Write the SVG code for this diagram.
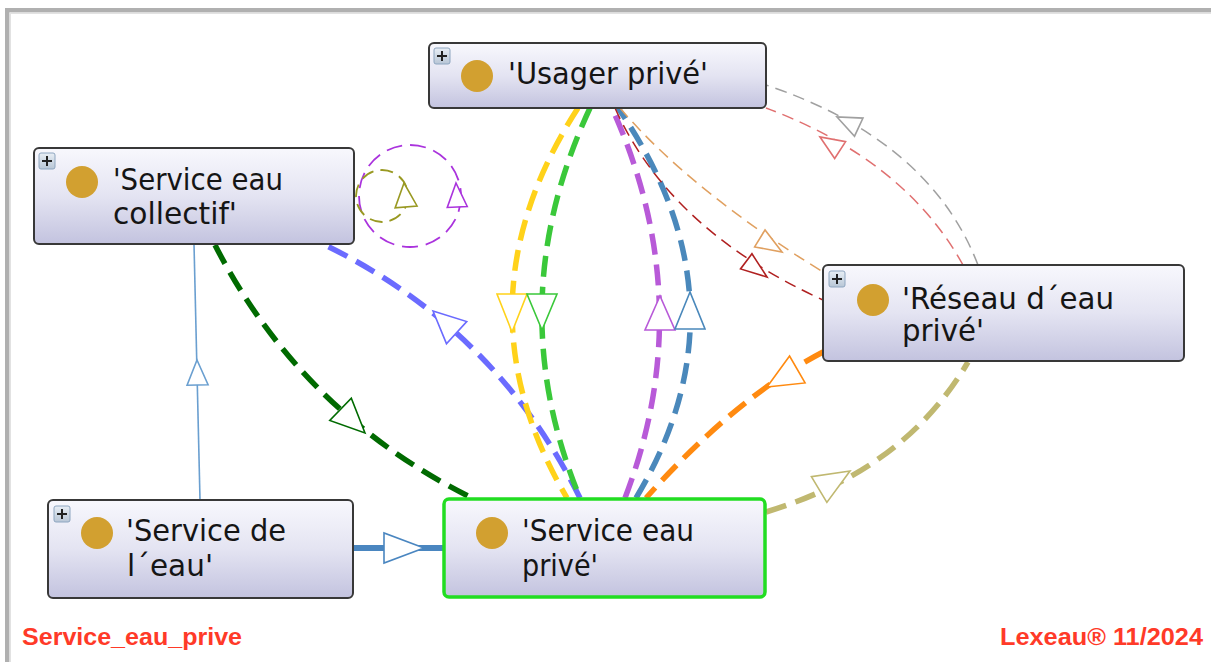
<svg xmlns="http://www.w3.org/2000/svg" width="1211" height="662" viewBox="0 0 1211 662">
<defs>
<linearGradient id="ng" x1="0" y1="0" x2="0" y2="1">
<stop offset="0" stop-color="#f8f8fd"/>
<stop offset="0.5" stop-color="#e4e4f2"/>
<stop offset="1" stop-color="#c3c3df"/>
</linearGradient>
<linearGradient id="ig" x1="0" y1="0" x2="0" y2="1">
<stop offset="0" stop-color="#e8eef5"/>
<stop offset="1" stop-color="#b8c6d6"/>
</linearGradient>
</defs>
<style>
.box{fill:url(#ng);stroke:#383838;stroke-width:2}
.sel{fill:url(#ng);stroke:#22dd22;stroke-width:3.5}
.dot{fill:#d2a030}
.ico{fill:url(#ig);stroke:#8ea6c0;stroke-width:1}
.plus{stroke:#222;stroke-width:2}
.lbl{font-family:"DejaVu Sans","Liberation Sans",sans-serif;font-size:30px;fill:#151515}
.foot{font-family:"Liberation Sans",Arial,sans-serif;font-weight:bold;font-size:24px;fill:#ff3a28}
.e{fill:none}
.thick{stroke-width:5.5;stroke-dasharray:21 10}
.thin{stroke-width:1.5;stroke-dasharray:12 7}
.ah{fill:#fff;stroke-width:1.6;stroke-linejoin:miter}
</style>
<rect x="0" y="0" width="1211" height="662" fill="#fff"/>
<rect x="5" y="8" width="1206" height="4.5" fill="#b0b0b0"/>
<rect x="5" y="8" width="4.5" height="654" fill="#b0b0b0"/>
<rect x="9.5" y="12.5" width="1201.5" height="1.5" fill="#e2e2e2"/>
<rect x="9.5" y="12.5" width="1.5" height="649.5" fill="#e2e2e2"/>

<g id="connectors">
<circle class="e" cx="410" cy="196" r="51" stroke="#aa33dd" stroke-width="1.8" stroke-dasharray="16 8"/>
<circle class="e" cx="382" cy="196" r="26" stroke="#999922" stroke-width="1.8" stroke-dasharray="13 7"/>
<path class="e" d="M200,500 L194,244" stroke="#6a9fd0" stroke-width="1.6"/>
<path class="e" d="M353,548 L443,548" stroke="#4a86c0" stroke-width="6"/>
<path class="e thick" d="M215,245 Q301,413 472,498" stroke="#006a00"/>
<path class="e thick" d="M580,498 Q496,329 327,246" stroke="#6b6bff"/>
<path class="e thick" d="M578,108 Q452,303 567,498" stroke="#ffd21a"/>
<path class="e thick" d="M590,108 Q499,303 580,498" stroke="#3ac83a"/>
<path class="e thick" d="M625,498 Q700,303 612,108" stroke="#b85ad8"/>
<path class="e thick" d="M636,498 Q753,303 618,108" stroke="#4a88bb"/>
<path class="e thick" d="M823,352 Q735,398 646,498" stroke="#ff8a10"/>
<path class="e thick" d="M766,512 Q905,470 968,362" stroke="#c0b870"/>
<path class="e thin" d="M620,108 Q690,190 823,272" stroke="#e0a060"/>
<path class="e thin" d="M615,108 Q670,230 823,300" stroke="#b02020"/>
<path class="e thin" d="M978,265 Q930,140 766,85" stroke="#a0a0a0"/>
<path class="e thin" d="M963,265 Q905,160 766,108" stroke="#e07070"/>

<polygon class="ah" stroke="#4a86c0" points="0,0 -40,-15 -40,15" transform="translate(424,548)"/>
<polygon class="ah" stroke="#6a9fd0" points="0,0 -25,-10.5 -25,10.5" transform="translate(197,360) rotate(-91.3)"/>
<polygon class="ah" stroke="#006a00" points="0,0 -34,-15.5 -34,15.5" transform="translate(365,433) rotate(44)"/>
<polygon class="ah" stroke="#6b6bff" points="0,0 -32,-15 -32,15" transform="translate(433,311) rotate(222.5)"/>
<polygon class="ah" stroke="#ffd21a" points="0,0 -38,-15 -38,15" transform="translate(512,332) rotate(90)"/>
<polygon class="ah" stroke="#3ac83a" points="0,0 -36,-15 -36,15" transform="translate(542,330) rotate(90)"/>
<polygon class="ah" stroke="#b85ad8" points="0,0 -34,-15 -34,15" transform="translate(660,296) rotate(-90)"/>
<polygon class="ah" stroke="#4a88bb" points="0,0 -37,-15 -37,15" transform="translate(690,292) rotate(-90)"/>
<polygon class="ah" stroke="#ff8a10" points="0,0 -35,-15.5 -35,15.5" transform="translate(767,387) rotate(150)"/>
<polygon class="ah" stroke="#c0b870" points="0,0 -36,-15 -36,15" transform="translate(850,471) rotate(-31)"/>
<polygon class="ah" stroke="#e0a060" points="0,0 -26,-10 -26,10" transform="translate(782,252) rotate(31.5)"/>
<polygon class="ah" stroke="#b02020" points="0,0 -26,-9.5 -26,9.5" transform="translate(767,277) rotate(37)"/>
<polygon class="ah" stroke="#a0a0a0" points="0,0 -24,-10 -24,10" transform="translate(837,117) rotate(205)"/>
<polygon class="ah" stroke="#e07070" points="0,0 -24,-10 -24,10" transform="translate(820,137) rotate(213)"/>
<polygon class="ah" stroke="#999922" points="0,0 -24,-11 -24,11" transform="translate(404,183) rotate(-95)"/>
<polygon class="ah" stroke="#aa33dd" points="0,0 -24,-10 -24,10" transform="translate(456,183) rotate(-93)"/>
</g>

<g id="node-usager">
<rect class="box" x="429" y="43" width="337" height="65" rx="5"/>
<rect class="ico" x="434" y="48" width="16" height="16" rx="2"/>
<path class="plus" d="M437,56 H447 M442,51 V61"/>
<circle class="dot" cx="477" cy="76" r="16"/>
<text class="lbl" x="508" y="84" textLength="200" lengthAdjust="spacingAndGlyphs">'Usager privé'</text>
</g>

<g id="node-collectif">
<rect class="box" x="34" y="148" width="320" height="96" rx="5"/>
<rect class="ico" x="39" y="153" width="16" height="16" rx="2"/>
<path class="plus" d="M42,161 H52 M47,156 V166"/>
<circle class="dot" cx="82" cy="182" r="16"/>
<text class="lbl" x="113" y="190" textLength="170" lengthAdjust="spacingAndGlyphs">'Service eau</text>
<text class="lbl" x="113" y="224" textLength="124" lengthAdjust="spacingAndGlyphs">collectif'</text>
</g>

<g id="node-reseau">
<rect class="box" x="823" y="265" width="361" height="96" rx="5"/>
<rect class="ico" x="829" y="271" width="16" height="16" rx="2"/>
<path class="plus" d="M832,279 H842 M837,274 V284"/>
<circle class="dot" cx="873" cy="300" r="16"/>
<text class="lbl" x="902" y="309" textLength="212" lengthAdjust="spacingAndGlyphs">'Réseau d´eau</text>
<text class="lbl" x="902" y="341" textLength="82" lengthAdjust="spacingAndGlyphs">privé'</text>
</g>

<g id="node-service-eau">
<rect class="box" x="48" y="500" width="305" height="98" rx="5"/>
<rect class="ico" x="54" y="506" width="16" height="16" rx="2"/>
<path class="plus" d="M57,514 H67 M62,509 V519"/>
<circle class="dot" cx="97" cy="533" r="16"/>
<text class="lbl" x="126" y="541" textLength="160" lengthAdjust="spacingAndGlyphs">'Service de</text>
<text class="lbl" x="127" y="576" textLength="86" lengthAdjust="spacingAndGlyphs">l´eau'</text>
</g>

<g id="node-prive">
<rect class="sel" x="444" y="499" width="321" height="98" rx="5"/>
<circle class="dot" cx="492" cy="533" r="16"/>
<text class="lbl" x="522" y="541" textLength="172" lengthAdjust="spacingAndGlyphs">'Service eau</text>
<text class="lbl" x="522" y="576" textLength="76" lengthAdjust="spacingAndGlyphs">privé'</text>
</g>

<text class="foot" x="22" y="645" textLength="220" lengthAdjust="spacingAndGlyphs">Service_eau_prive</text>
<text class="foot" x="1000" y="645" textLength="203" lengthAdjust="spacingAndGlyphs">Lexeau® 11/2024</text>
</svg>
